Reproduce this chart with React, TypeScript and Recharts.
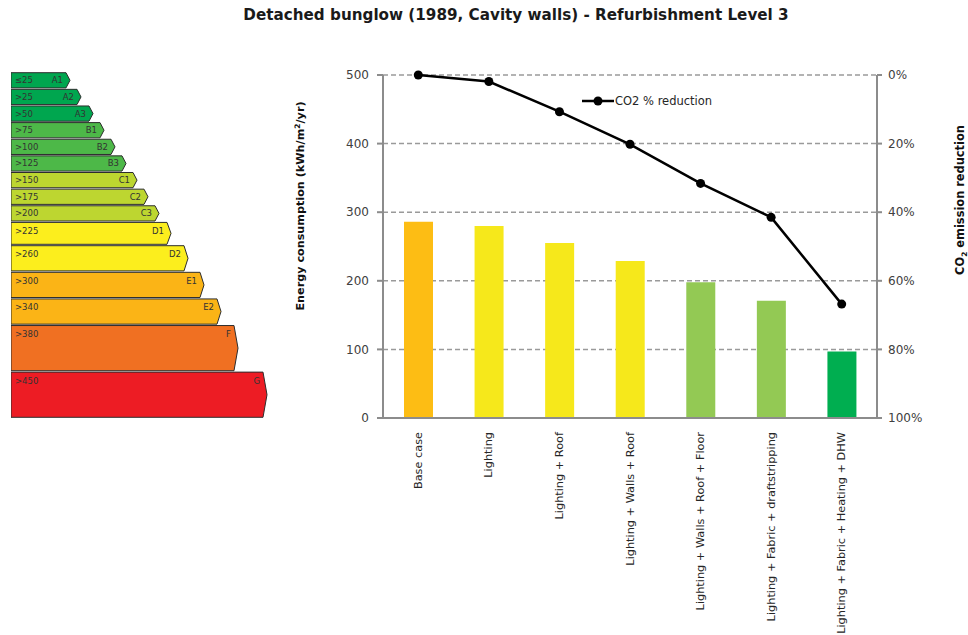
import { ComposedChart, Bar, Line, XAxis, YAxis, CartesianGrid, Cell, Legend, ReferenceArea } from "recharts";

// main chart
const categories = [
  "Base case",
  "Lighting",
  "Lighting + Roof",
  "Lighting + Walls + Roof",
  "Lighting + Walls + Roof + Floor",
  "Lighting + Fabric + draftstripping",
  "Lighting + Fabric + Heating + DHW",
];
const energyUse = [286, 280, 255, 229, 198, 171, 97];
const co2Reduction = [0, 1.9, 10.7, 20.2, 31.6, 41.5, 66.8];
const energyTicks = [0, 100, 200, 300, 400, 500];
const co2Ticks = [0, 20, 40, 60, 80, 100];
const edgeTicks = [0, 1, 2, 3, 4, 5, 6, 7];

// rating scale on the left
const bandLetters = ["A1", "A2", "A3", "B1", "B2", "B3", "C1", "C2", "C3", "D1", "D2", "E1", "E2", "F", "G"];
const bandLabels = ["≤25", ">25", ">50", ">75", ">100", ">125", ">150", ">175", ">200", ">225", ">260", ">300", ">340", ">380", ">450"];
const bandFrom = [0, 25, 50, 75, 100, 125, 150, 175, 200, 225, 260, 300, 340, 380, 450];
const bandTo = [25, 50, 75, 100, 125, 150, 175, 200, 225, 260, 300, 340, 380, 450, 520];
const bandLength = [59, 70, 82, 93, 104, 115, 126, 137, 148, 160, 177, 193, 210, 227, 256];

const BAR_COLORS = ["#fdbd14", "#f6e81b", "#f6e81b", "#f6e81b", "#93c954", "#93c954", "#00ae50"];
const BAND_COLORS = [
  "#00a64f", "#00a64f", "#00a64f",
  "#4db848", "#4db848", "#4db848",
  "#bdd630", "#bdd630", "#bdd630",
  "#fcee1d", "#fcee1d",
  "#fbb416", "#fbb416",
  "#f07022", "#ed1c24",
];

const FONT = "'DejaVu Sans', sans-serif";
const AXIS = "#8c8c8c";

const rows = categories.map((name, i) => ({ name, energy: energyUse[i], co2: co2Reduction[i] }));
const bands = bandLetters.map((letter, i) => ({
  letter, label: bandLabels[i], from: bandFrom[i], to: bandTo[i], len: bandLength[i], color: BAND_COLORS[i],
}));

function renderBand(p: any, b: (typeof bands)[number]) {
  const { x, y, width, height } = p;
  const tip = 4;
  const y0 = y + 0.7, y1 = y + height - 0.7, ym = (y0 + y1) / 2;
  const x1 = x + width - tip, x2 = x + width;
  const ty = y0 + Math.min((y1 - y0) / 2, 8.5);
  return (
    <g>
      <path d={`M${x},${y0}H${x1}L${x2},${ym}L${x1},${y1}H${x}Z`} fill={b.color} stroke="#2d2d2d" strokeWidth={1} />
      <text x={x + 4} y={ty} dominantBaseline="central" fontSize={8.5} fill="#333" fontFamily={FONT}>{b.label}</text>
      <text x={x2 - 7} y={ty} dominantBaseline="central" textAnchor="end" fontSize={8.5} fill="#333" fontFamily={FONT}>{b.letter}</text>
    </g>
  );
}

const XTick = ({ x, y, payload }: any) => (
  <text x={x} y={y} transform={`rotate(-90 ${x} ${y})`} textAnchor="end" dominantBaseline="central"
        fontSize={11.3} fill="#262626" fontFamily={FONT}>
    {payload.value}
  </text>
);

const LegendBox = () => (
  <div style={{ display: "flex", alignItems: "center", fontFamily: FONT, fontSize: 11.5, color: "#262626" }}>
    <svg width={32} height={10}>
      <line x1={0} y1={5} x2={32} y2={5} stroke="#000" strokeWidth={2.5} />
      <circle cx={16} cy={5} r={4.5} fill="#000" />
    </svg>
    <span style={{ marginLeft: 1 }}>CO2 % reduction</span>
  </div>
);

export default function App() {
  return (
    <div style={{ position: "absolute", left: 0, top: 0, width: 968, height: 635, background: "#fff", fontFamily: FONT }}>
      <div style={{ position: "absolute", left: 0, width: 968, top: 6, textAlign: "center", paddingLeft: 64, boxSizing: "border-box",
                    fontWeight: 700, fontSize: 15.2, color: "#1a1a1a" }}>
        Detached bunglow (1989, Cavity walls) - Refurbishment Level 3
      </div>

      <div style={{ position: "absolute", left: 11, top: 72 }}>
        <ComposedChart width={262} height={346} data={bands} margin={{ top: 0, right: 2, bottom: 0, left: 0 }}>
          <XAxis type="number" dataKey="len" domain={[0, 260]} hide />
          <YAxis type="number" dataKey="to" domain={[0, 520]} reversed hide />
          {bands.map((b, i) => (
            <ReferenceArea key={i} x1={0} x2={b.len} y1={b.from} y2={b.to} ifOverflow="visible"
                           shape={(p: any) => renderBand(p, b)} />
          ))}
        </ComposedChart>
      </div>

      <div style={{ position: "absolute", left: 0, top: 0 }}>
        <ComposedChart width={968} height={635} data={rows} margin={{ top: 75, right: 41, bottom: 17, left: 343 }}>
          <CartesianGrid vertical={false} stroke="#9a9a9a" strokeDasharray="5 3" strokeWidth={1.5} yAxisId="e" />
          <XAxis dataKey="name" xAxisId="c" height={200} tickLine={false} tickSize={0} tickMargin={14}
                 axisLine={{ stroke: AXIS, strokeWidth: 2 }} tick={<XTick />} interval={0} />
          <XAxis xAxisId="edges" type="number" domain={[0, 7]} ticks={edgeTicks} height={0} axisLine={false}
                 tick={false} tickLine={{ stroke: AXIS, strokeWidth: 2 }} tickSize={5} />
          <YAxis yAxisId="e" domain={[0, 500]} ticks={energyTicks} width={40} tickSize={6} tickMargin={8}
                 axisLine={{ stroke: AXIS, strokeWidth: 2 }} tickLine={{ stroke: AXIS, strokeWidth: 2 }}
                 tick={{ fontSize: 12, fill: "#404040", fontFamily: FONT }} />
          <YAxis yAxisId="p" orientation="right" domain={[0, 100]} reversed ticks={co2Ticks} width={50}
                 tickSize={5} tickMargin={6} tickFormatter={(v: number) => `${v}%`}
                 axisLine={{ stroke: AXIS, strokeWidth: 2 }} tickLine={{ stroke: AXIS, strokeWidth: 2 }}
                 tick={{ fontSize: 12, fill: "#404040", fontFamily: FONT }} />
          <Bar dataKey="energy" xAxisId="c" yAxisId="e" barSize={29} isAnimationActive={false}>
            {rows.map((r, i) => <Cell key={r.name} fill={BAR_COLORS[i]} />)}
          </Bar>
          <Line dataKey="co2" xAxisId="c" yAxisId="p" stroke="#000" strokeWidth={2.5}
                dot={{ r: 4.5, fill: "#000", stroke: "#000", strokeWidth: 0 }} isAnimationActive={false} />
          <Legend layout="vertical" align="center" verticalAlign="middle" content={<LegendBox />}
                  wrapperStyle={{ left: 582, top: 94, width: 170, height: 16 }} />
        </ComposedChart>
      </div>

      <div style={{ position: "absolute", left: 300, top: 206, transform: "translate(-50%, -50%) rotate(-90deg)",
                    whiteSpace: "nowrap", fontWeight: 700, fontSize: 11.2, color: "#111" }}>
        Energy consumption (kWh/m<sup style={{ fontSize: 7.5 }}>2</sup>/yr)
      </div>
      <div style={{ position: "absolute", left: 961, top: 200, transform: "translate(-50%, -50%) rotate(-90deg)",
                    whiteSpace: "nowrap", fontWeight: 700, fontSize: 11.4, color: "#111" }}>
        CO<sub style={{ fontSize: 7.5 }}>2</sub> emission reduction
      </div>
    </div>
  );
}
